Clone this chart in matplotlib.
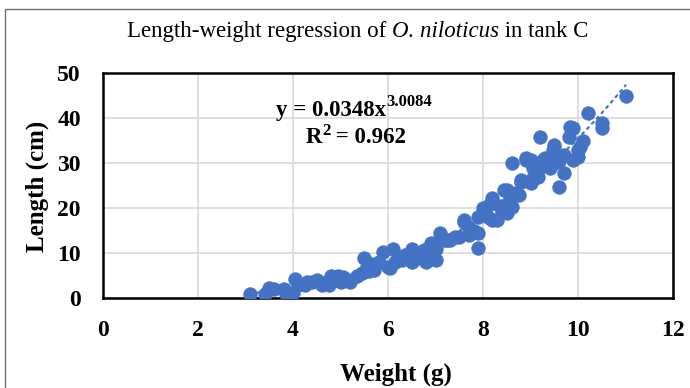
import numpy as np
import matplotlib
matplotlib.use("Agg")
import matplotlib.pyplot as plt
from matplotlib.patches import Rectangle

# ---- data ----
weight = [3.1, 3.4, 3.5, 3.6, 3.8, 3.85, 3.95, 4.0, 4.05, 4.1, 4.25, 4.3, 4.4, 4.5, 4.6,
          4.7, 4.75, 4.8, 4.9, 4.95, 5.0, 5.05, 5.15, 5.2, 5.35, 5.45, 5.5, 5.55, 5.6, 5.65,
          5.7, 5.8, 5.9, 6.0, 6.05, 6.1, 6.15, 6.2, 6.3, 6.35, 6.45, 6.5, 6.5, 6.6, 6.7,
          6.75, 6.8, 6.85, 6.9, 6.95, 6.95, 7.0, 7.0, 7.05, 7.1, 7.2, 7.25, 7.3, 7.4, 7.5,
          7.6, 7.6, 7.7, 7.7, 7.8, 7.9, 7.9, 7.9, 8.0, 8.0, 8.1, 8.15, 8.2, 8.2, 8.3,
          8.35, 8.4, 8.45, 8.5, 8.5, 8.55, 8.6, 8.6, 8.7, 8.75, 8.8, 8.8, 8.9, 8.9, 9.0,
          9.0, 9.0, 9.05, 9.1, 9.15, 9.15, 9.2, 9.25, 9.27, 9.3, 9.4, 9.47, 9.5, 9.5, 9.5,
          9.6, 9.6, 9.7, 9.7, 9.8, 9.83, 9.9, 9.9, 10.0, 10.0, 10.05, 10.1, 10.2, 10.5, 10.5,
          11.0]
length = [1.0, 1.0, 2.2, 2.0, 2.0, 1.0, 0.9, 1.2, 4.2, 3.0, 3.0, 3.5, 3.5, 4.0, 3.0,
          3.5, 3.0, 5.0, 4.0, 5.0, 3.5, 4.7, 4.0, 3.6, 5.0, 5.5, 9.0, 7.0, 6.0, 7.5,
          6.2, 8.0, 10.2, 7.0, 6.7, 11.0, 8.0, 9.0, 8.4, 9.5, 9.5, 11.0, 8.0, 9.0, 9.0,
          10.7, 8.0, 8.4, 12.2, 9.1, 10.0, 11.0, 8.5, 12.5, 14.4, 13.0, 12.9, 13.0, 13.5, 13.6,
          16.9, 17.3, 14.0, 15.5, 15.0, 11.1, 14.4, 18.0, 19.1, 20.0, 18.0, 21.0, 22.2, 17.3, 17.3,
          20.5, 19.1, 24.0, 19.0, 24.0, 21.5, 20.2, 30.0, 23.3, 22.9, 25.8, 26.2, 31.1, 30.7, 25.6,
          26.2, 30.7, 28.9, 28.0, 26.9, 28.4, 35.8, 29.5, 30.7, 31.1, 29.0, 32.9, 30.0, 33.3, 34.0,
          24.7, 30.5, 27.8, 31.8, 35.8, 38.0, 37.8, 30.7, 32.9, 31.3, 33.5, 34.9, 41.1, 38.9, 37.8,
          44.9]
fit_a = 0.0348
fit_b = 3.0084
r2 = 0.962
xticks = [0, 2, 4, 6, 8, 10, 12]
yticks = [0, 10, 20, 30, 40, 50]

blue = "#4472C4"
serif = ["Liberation Serif", "DejaVu Serif"]

W, H = 690, 388
fig = plt.figure(figsize=(6.9, 3.88), dpi=100)
fig.patch.set_facecolor("white")
# outer chart-area border
fig.patches.append(Rectangle((5 / W, -0.2), 1.2, 1.2 - 9 / H,
                             transform=fig.transFigure, fill=False,
                             edgecolor="#6e6e6e", linewidth=1.0))

ax = fig.add_axes([103 / W, 1 - 298 / H, (673 - 103) / W, (298 - 73) / H])
ax.set_xlim(0, 12)
ax.set_ylim(0, 50)
ax.set_xticks(xticks)
ax.set_yticks(yticks)
ax.grid(True, color="#d9d9d9", linewidth=1.2)
ax.set_axisbelow(True)
for s in ax.spines.values():
    s.set_color("black")
    s.set_linewidth(1.8)
ax.tick_params(length=0)
ax.tick_params(axis="x", pad=16)
ax.tick_params(axis="y", pad=16)
for lab in ax.get_xticklabels() + ax.get_yticklabels():
    lab.set_fontfamily(serif)
    lab.set_fontweight("bold")
    lab.set_fontsize(17)

# trendline
xs = np.linspace(min(weight), max(weight), 200)
ax.plot(xs, fit_a * xs ** fit_b, color=blue, linewidth=1.6,
        linestyle=(0, (1, 2.2)), dash_capstyle="round", zorder=2)

ax.scatter(weight, length, s=100, color=blue, edgecolors=blue, linewidths=0.3, zorder=3)

fig.canvas.draw()
renderer = fig.canvas.get_renderer()


def place_line(pieces, xcenter, ybase, **common):
    """pieces: list of (text, kwargs, dy_px). Centered horizontally at xcenter px."""
    objs = []
    for s, kw, dy in pieces:
        t = fig.text(0, 1 - (ybase - dy) / H, s, ha="left", va="baseline",
                     family=serif, **common, **kw)
        objs.append(t)
    widths = [t.get_window_extent(renderer).width for t in objs]
    x0 = xcenter - sum(widths) / 2
    for t, w in zip(objs, widths):
        t.set_x(x0 / W)
        x0 += w
    return objs


# equation and R^2
place_line([("y = %.4fx" % fit_a, dict(fontsize=16.5), 0),
            ("%.4f" % fit_b, dict(fontsize=12), 10)],
           354, 116, fontweight="bold")
place_line([("R", dict(fontsize=16.5), 0),
            ("2", dict(fontsize=12), 8),
            (" = %.3f" % r2, dict(fontsize=16.5), 0)],
           356, 143, fontweight="bold")

# title built from three pieces (roman / italic / roman)
place_line([("Length-weight regression of ", dict(fontstyle="normal"), 0),
            ("O. niloticus", dict(fontstyle="italic"), 0),
            (" in tank C", dict(fontstyle="normal"), 0)],
           358, 37, fontsize=16.5)

fig.text(396 / W, 1 - 374 / H, "Weight (g)", family=serif, fontweight="bold",
         fontsize=18, ha="center", va="center")
fig.text(37 / W, 1 - 186 / H, "Length (cm)", family=serif, fontweight="bold",
         fontsize=18, ha="center", va="center", rotation=90)

fig.savefig("out.png", dpi=100)
